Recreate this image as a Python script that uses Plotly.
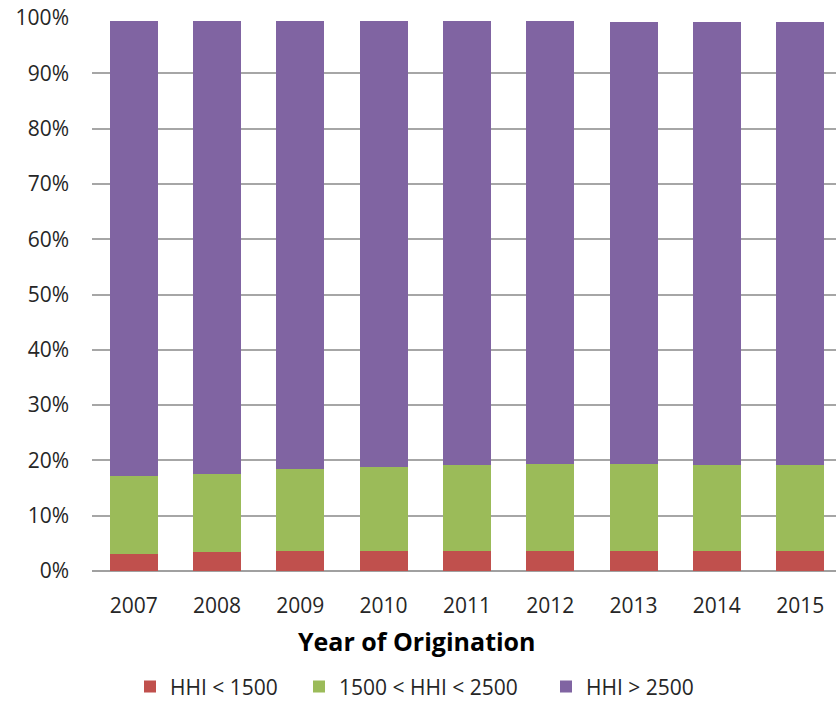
import plotly.graph_objects as go

years = ["2007", "2008", "2009", "2010", "2011", "2012", "2013", "2014", "2015"]
hhi_low = [3.1, 3.4, 3.7, 3.7, 3.7, 3.7, 3.7, 3.7, 3.7]
hhi_mid = [14.1, 14.1, 14.7, 15.1, 15.4, 15.7, 15.7, 15.4, 15.4]
hhi_high = [82.3, 82.0, 81.1, 80.7, 80.4, 80.1, 79.8, 80.1, 80.1]

series = [
    ("HHI < 1500", hhi_low, "#C0504D"),
    ("1500 < HHI < 2500", hhi_mid, "#9BBB59"),
    ("HHI > 2500", hhi_high, "#8064A2"),
]

W, H = 836, 701
top, bottom, left, right = 17.5, 130, 92, 0
plot_h = H - top - bottom
plot_w = W - left - right

font = "Open Sans, Liberation Sans, sans-serif"

# each series gets its own legend box so the entries can be spaced freely
legend_names = ["legend", "legend2", "legend3"]
legend_left_px = [130, 299, 546]

fig = go.Figure()
for (name, vals, color), lg in zip(series, legend_names):
    fig.add_trace(go.Bar(
        x=years, y=[v / 100 for v in vals], name=name, legend=lg,
        showlegend=True,
        marker=dict(color=color, line=dict(width=0)),
    ))

legend_common = dict(
    orientation="h", xanchor="left",
    y=(571 - 687) / plot_h, yanchor="middle",
    font=dict(size=21, color="#262626"), itemwidth=30,
    bgcolor="rgba(0,0,0,0)",
)
legend_layout = {
    lg: dict(legend_common, x=(px - left) / plot_w)
    for lg, px in zip(legend_names, legend_left_px)
}

fig.update_layout(
    width=W, height=H,
    showlegend=True,
    margin=dict(l=left, r=right, t=top, b=bottom, pad=0, autoexpand=False),
    barmode="stack", bargap=0.425,
    paper_bgcolor="white", plot_bgcolor="white",
    font=dict(family=font, size=21, color="#262626"),
    xaxis=dict(
        type="category", range=[-0.5, 8.43], showgrid=False,
        showline=False, ticks="", ticklabelstandoff=20,
        tickfont=dict(size=21, color="#262626"),
    ),
    yaxis=dict(
        range=[0, 1], tickvals=[i / 10 for i in range(11)], tickformat=".0%",
        showgrid=True, gridcolor="#a6a6a6", gridwidth=1.5,
        zeroline=True, zerolinecolor="#a0a0a0", zerolinewidth=1.8,
        showline=False, ticks="", ticklabelstandoff=22,
        tickfont=dict(size=21, color="#262626"),
    ),
    annotations=[dict(
        text="<b>Year of Origination</b>", xref="paper", yref="paper",
        x=(417 - left) / plot_w, y=(571 - 641) / plot_h,
        xanchor="center", yanchor="middle", showarrow=False,
        font=dict(size=25, color="#000000", family=font),
    )],
    **legend_layout,
)

fig.write_html("out.html")
